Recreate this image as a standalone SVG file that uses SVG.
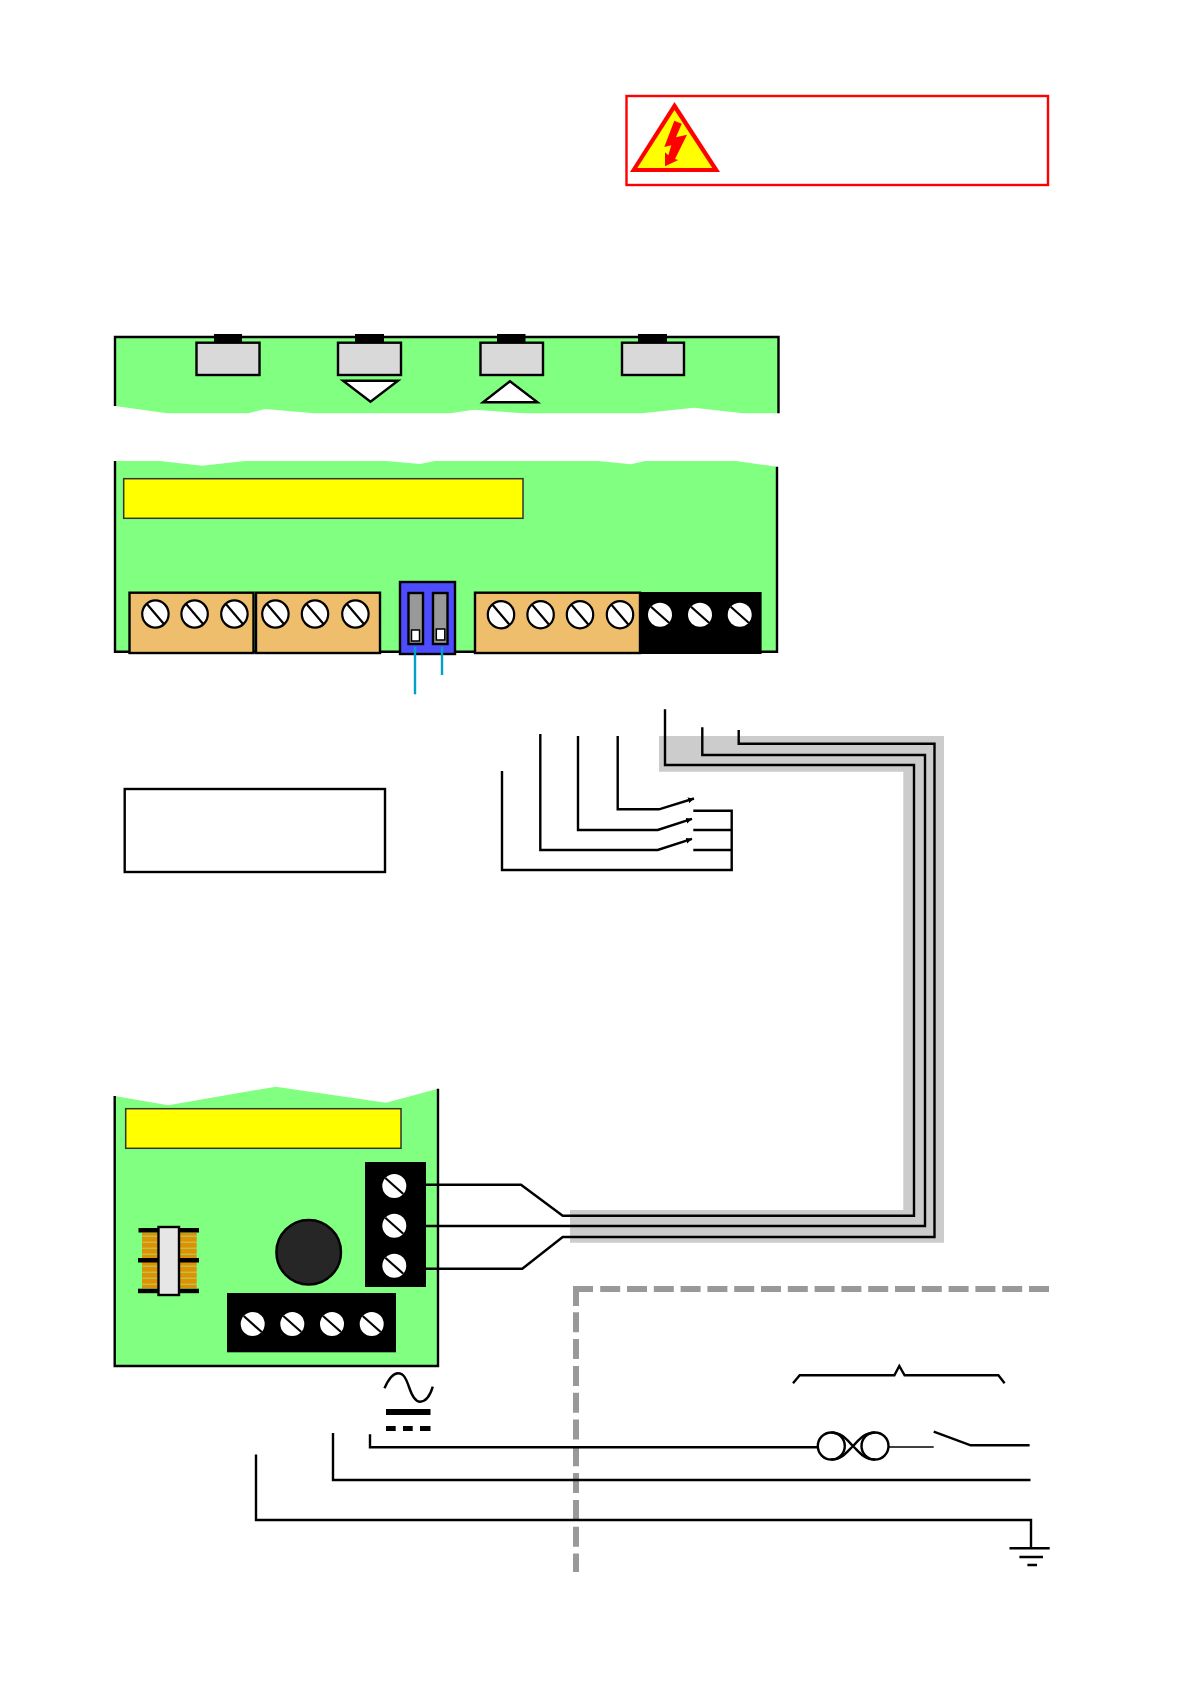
<svg xmlns="http://www.w3.org/2000/svg" xmlns:xlink="http://www.w3.org/1999/xlink" width="1191" height="1685" viewBox="0 0 1191 1685">
<style>
.panel{fill:#80ff80;stroke:none}
.edge{fill:none;stroke:#000;stroke-width:2.4}
.btn{fill:#d9d9d9;stroke:#000;stroke-width:2.4}
.tab{fill:#000}
.tri{fill:#fff;stroke:#000;stroke-width:2.4}
.lcd{fill:#ff0;stroke:#333;stroke-width:1.5}
.term{fill:#efbe6c;stroke:#000;stroke-width:2.4}
.blk{fill:#000}
.w{fill:none;stroke:#000;stroke-width:2.4}
.w1{fill:none;stroke:#000;stroke-width:1.6}
.cy{fill:none;stroke:#00a0c8;stroke-width:2.4}
.gd{fill:none;stroke:#999;stroke-width:6}
.dash{stroke-dasharray:20 6.8}
.slot{stroke:#000;stroke-width:2.2}
</style>
<defs>
<g id="screw"><ellipse rx="13.2" ry="13.6" fill="#fff" stroke="#000" stroke-width="2.2"/><line class="slot" x1="-8.5" y1="-10" x2="8.5" y2="10"/></g>
<g id="screwb"><circle r="12" fill="#fff"/><line class="slot" x1="-9" y1="-8" x2="9" y2="8"/></g>
<pattern id="coil" width="6" height="6" patternUnits="userSpaceOnUse" y="1232">
<rect width="6" height="6" fill="#e09000"/><rect y="3.5" width="6" height="1.5" fill="#b6c34e"/>
</pattern>
<marker id="tip" markerUnits="userSpaceOnUse" markerWidth="8" markerHeight="8" refX="6" refY="3" orient="auto"><path d="M0,0L6,3L0,6z" fill="#000"/></marker>
</defs>

<g id="warning">
<rect x="626.5" y="96" width="421.5" height="89" fill="#fff" stroke="#f00" stroke-width="2.4"/>
<polygon points="674.5,102 630,172 720,172" fill="#f00"/>
<polygon points="674.5,110 637.3,168 712.3,168" fill="#ff0"/>
<polygon points="674.3,120.7 681.7,123.7 676,137.3 687,134.7 675,159 678.3,160 665,166.3 665,152.3 668.3,155.3 671.3,145.3 664.3,147" fill="#f00"/>
</g>

<g id="front-panel">
<path class="panel" d="M115,337H779V413.3H743L694,407.7L642,413.3H524L474,409.7L450,413.3H314L265,409L248,413.3H167L115,406Z"/>
<path class="edge" d="M115,406V337H778.5V413.3"/>
<rect class="tab" x="214" y="334" width="28" height="9"/><rect class="btn" x="196.5" y="342.7" width="63" height="32.3"/>
<rect class="tab" x="355" y="334" width="29" height="9"/><rect class="btn" x="338" y="342.7" width="63" height="32.3"/>
<rect class="tab" x="497" y="334" width="28.5" height="9"/><rect class="btn" x="480.5" y="342.7" width="62.5" height="32.3"/>
<rect class="tab" x="638" y="334" width="29" height="9"/><rect class="btn" x="622" y="342.7" width="62" height="32.3"/>
<polygon class="tri" points="343,380.7 398,380.7 370.5,401.7"/>
<polygon class="tri" points="510,381.3 483,402.3 537.5,402.3"/>
</g>

<g id="main-board">
<path class="panel" d="M115,461H160L202,465.7L245,461H386L420,464L435,461H598L631,464.3L645,461H736L777,466.7V651.7H115Z"/>
<path class="edge" d="M115,461V651.7H777V466.7"/>
<rect class="lcd" x="123.7" y="478.7" width="399.3" height="39.6"/>
<rect class="term" x="129.5" y="592.7" width="124" height="60.3"/>
<rect class="term" x="256" y="592.7" width="124" height="60.3"/>
<rect class="term" x="475" y="592.7" width="165" height="60.3"/>
<rect class="blk" x="641" y="592" width="120.6" height="62"/>
<use xlink:href="#screw" href="#screw" x="155.4" y="614"/><use xlink:href="#screw" href="#screw" x="194.6" y="614"/><use xlink:href="#screw" href="#screw" x="234.4" y="614"/>
<use xlink:href="#screw" href="#screw" x="275.4" y="614"/><use xlink:href="#screw" href="#screw" x="315" y="614"/><use xlink:href="#screw" href="#screw" x="355.4" y="614"/>
<use xlink:href="#screw" href="#screw" x="501" y="614.7"/><use xlink:href="#screw" href="#screw" x="540.6" y="614.7"/><use xlink:href="#screw" href="#screw" x="580" y="614.7"/><use xlink:href="#screw" href="#screw" x="620" y="614.7"/>
<use xlink:href="#screwb" href="#screwb" x="660" y="614.7"/><use xlink:href="#screwb" href="#screwb" x="700" y="614.7"/><use xlink:href="#screwb" href="#screwb" x="739.7" y="614.7"/>
<rect x="400" y="582" width="55" height="72" fill="#4d4dff" stroke="#000" stroke-width="2.4"/>
<rect x="408.5" y="593" width="14.5" height="51" fill="#999" stroke="#000" stroke-width="2.4"/>
<rect x="411.5" y="630" width="8" height="11" fill="#fff" stroke="#000" stroke-width="1.5"/>
<rect x="433" y="593" width="14.5" height="51" fill="#999" stroke="#000" stroke-width="2.4"/>
<rect x="436.3" y="629" width="8.5" height="11" fill="#fff" stroke="#000" stroke-width="1.5"/>
</g>

<g id="note-box"><rect x="124.7" y="789" width="260.3" height="83" fill="#fff" stroke="#000" stroke-width="2.4"/></g>

<g id="cable"><path fill="#ccc" d="M659,736H944V1242.7H570V1210H903.3V771.7H659Z"/></g>

<g id="power-board">
<path class="panel" d="M114.7,1096L168.3,1105.3L275.7,1086.7L386,1102.7L438,1088.7V1366H114.7Z"/>
<path class="edge" d="M114.7,1096V1366H438V1088.7"/>
<rect class="lcd" x="125.7" y="1108.7" width="275.3" height="39.6"/>
<rect x="142" y="1232.7" width="54.7" height="55.6" fill="url(#coil)"/>
<rect class="tab" x="138.5" y="1228" width="60.5" height="4.5"/>
<rect class="tab" x="138" y="1258" width="61" height="4.5"/>
<rect class="tab" x="138" y="1288.7" width="61" height="4.5"/>
<rect x="158.5" y="1227" width="20.5" height="68" fill="#e6e6e6" stroke="#000" stroke-width="2.4"/>
<circle cx="308.7" cy="1252.3" r="32.3" fill="#262626" stroke="#000" stroke-width="2.4"/>
<rect class="blk" x="365" y="1162" width="61" height="125"/>
<use xlink:href="#screwb" href="#screwb" x="394.3" y="1186"/><use xlink:href="#screwb" href="#screwb" x="394.3" y="1225.7"/><use xlink:href="#screwb" href="#screwb" x="394.3" y="1265.7"/>
<rect class="blk" x="227" y="1293" width="169" height="59.3"/>
<use xlink:href="#screwb" href="#screwb" x="252.7" y="1324"/><use xlink:href="#screwb" href="#screwb" x="292.3" y="1324"/><use xlink:href="#screwb" href="#screwb" x="332" y="1324"/><use xlink:href="#screwb" href="#screwb" x="371.7" y="1324"/>
</g>

<g id="ac-symbol">
<path class="w" d="M384.5,1388.3C389,1378 393,1373.3 398,1373.3C405,1373.3 407,1382 409,1387C412,1396 415,1401.7 420,1401.7C426,1401.7 430,1396 432.8,1386.7"/>
<rect x="386" y="1409" width="44.5" height="6"/>
<rect x="386" y="1426" width="9.7" height="5"/><rect x="403" y="1426" width="9.7" height="5"/><rect x="420" y="1426" width="10.5" height="5"/>
</g>

<g id="mains-enclosure">
<path class="gd" d="M576,1306V1289H593"/>
<path class="gd dash" d="M1049,1289H600"/>
<path class="gd dash" d="M576,1312.3V1572"/>
</g>

<g id="connectors">
<path class="cy" d="M415,646.7V694.3"/>
<path class="cy" d="M442,646.7V675"/>
<path class="w" d="M665,709.3V765H914V1215.7H562.7L521,1184.7H425.7"/>
<path class="w" d="M702.3,727.3V755H925V1226H425.7"/>
<path class="w" d="M738.7,730V743.7H934.5V1237H562.7L522.3,1268.7H425.7"/>
<path class="w" d="M617.7,736V809.3H659L694,798.5" marker-end="url(#tip)"/>
<path class="w" d="M578,736V830H657.7L692,818.8" marker-end="url(#tip)"/>
<path class="w" d="M540.3,734V850H657.7L692,838.8" marker-end="url(#tip)"/>
<path class="w" d="M502,771V870H731.7V810.7H693.3"/>
<path class="w" d="M693.3,830H731.7M693.3,850H731.7"/>
<path class="w" d="M370,1434.3V1447.3H818"/>
<path class="w1" d="M888,1447H933.7"/>
<path class="w" d="M933.7,1431.7L970.7,1445.3H1029.6"/>
<path class="w" d="M333,1433V1480H1030.5"/>
<path class="w" d="M256,1454.5V1520H1031V1548.3"/>
<path class="w" d="M1009.5,1548.3H1049.7M1019.4,1557H1043M1027.4,1565H1037"/>
<path class="w" d="M793,1383.3L799.7,1375.3H894.4L899.3,1366L904.6,1375.3H998.4L1004.6,1383.3"/>
</g>

<g id="fuse">
<circle cx="831.3" cy="1446" r="13.5" fill="#fff" stroke="#000" stroke-width="2.4"/>
<circle cx="875" cy="1446" r="13.5" fill="#fff" stroke="#000" stroke-width="2.4"/>
<path class="w" d="M831.3,1432.5C842,1432.5 847,1440 853,1446S864,1459.5 875,1459.5M831.3,1459.5C842,1459.5 847,1452 853,1446S864,1432.5 875,1432.5"/>
</g>
</svg>
